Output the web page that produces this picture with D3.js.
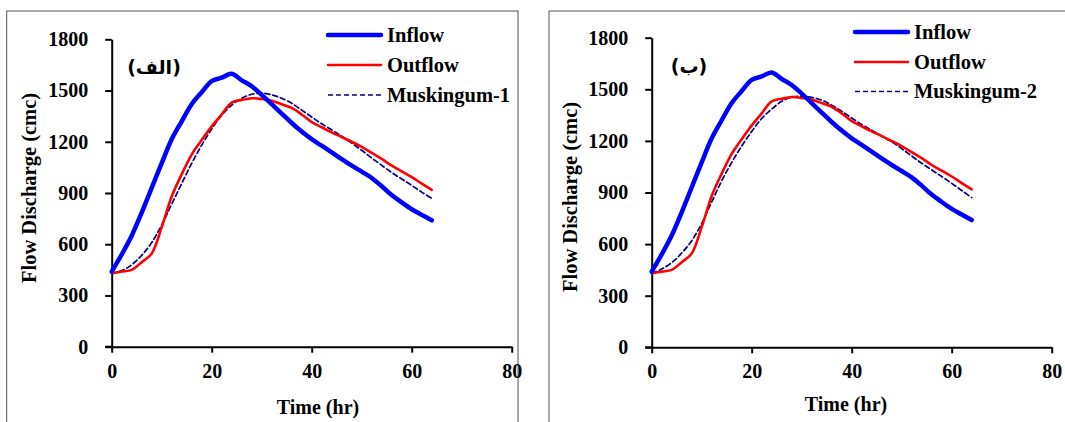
<!DOCTYPE html>
<html>
<head>
<meta charset="utf-8">
<script src="https://cdn.jsdelivr.net/npm/d3@7"></script>
<style>
  html, body { margin: 0; padding: 0; background: #fff; }
  svg { display: block; }
  text { font-family: "Liberation Serif", "Times New Roman", serif; font-weight: bold; fill: #000; }
</style>
</head>
<body>
<svg id="chart" width="1065" height="422"></svg>
<script>
// ---------- data ----------
const times = [0,2,4,6,8,10,12,14,16,18,20,22,24,26,28,30,32,34,36,38,40,42,44,46,48,50,52,54,56,58,60,62,64];
const inflow = [440,540,650,785,930,1075,1215,1320,1420,1490,1555,1575,1598,1560,1525,1475,1420,1365,1310,1260,1215,1177,1138,1098,1060,1025,988,940,888,845,805,772,740];
const outflow = [430,440,450,495,545,700,880,1010,1125,1210,1290,1360,1430,1445,1455,1450,1440,1420,1398,1360,1315,1285,1255,1228,1200,1170,1135,1100,1060,1027,993,955,918];
const muskingum1 = [430,445,480,535,610,713,835,955,1074,1180,1275,1355,1415,1455,1478,1485,1475,1455,1425,1385,1345,1305,1270,1232,1192,1150,1105,1062,1020,982,945,905,869];
const muskingum2 = [430,455,492,548,620,720,845,968,1075,1170,1255,1330,1385,1430,1455,1460,1453,1437,1408,1372,1333,1295,1262,1228,1194,1155,1112,1070,1031,993,953,912,870];
const xTicks = [0,20,40,60,80];
const yTicks = [0,300,600,900,1200,1500,1800];
const panelLabels = ["(الف)", "(ب)"];
const modelNames = ["Muskingum-1", "Muskingum-2"];
const seriesNames = ["Inflow", "Outflow"];
const xTitle = "Time (hr)";
const yTitle = "Flow Discharge (cmc)";

// ---------- layout ----------
const panels = [
  { frame: [6.7, 11, 518, 430], x0: 111.7, x1: 511.7, yTop: 39.3, yBot: 346.7,
    model: muskingum1, label: panelLabels[0], labelPos: [154, 67], name: modelNames[0],
    legX: 328, legY: [35, 65, 95], yTitlePos: [29, 188], xTitlePos: [318, 414] },
  { frame: [549, 11, 1080, 430], x0: 651.7, x1: 1051.7, yTop: 37.7, yBot: 347.3,
    model: muskingum2, label: panelLabels[1], labelPos: [689, 66], name: modelNames[1],
    legX: 855, legY: [32, 62, 91.5], yTitlePos: [570, 197], xTitlePos: [846, 411] }
];

const svg = d3.select("#chart");

panels.forEach((p, i) => {
  const g = svg.append("g");
  // frame
  g.append("rect")
    .attr("x", p.frame[0]).attr("y", p.frame[1])
    .attr("width", p.frame[2] - p.frame[0]).attr("height", p.frame[3] - p.frame[1])
    .attr("fill", "none").attr("stroke", "#555").attr("stroke-width", 1);

  const x = d3.scaleLinear().domain([0, 80]).range([p.x0, p.x1]);
  const y = d3.scaleLinear().domain([0, 1800]).range([p.yBot, p.yTop]);

  // axes
  const xAxis = g.append("g").attr("transform", `translate(0,${p.yBot})`)
    .call(d3.axisBottom(x).tickValues(xTicks).tickFormat(d3.format("d")).tickSize(6).tickPadding(11).tickSizeOuter(0));
  const yAxis = g.append("g").attr("transform", `translate(${p.x0},0)`)
    .call(d3.axisLeft(y).tickValues(yTicks).tickFormat(d3.format("d")).tickSize(6.5).tickPadding(17).tickSizeOuter(0));
  [xAxis, yAxis].forEach(a => {
    a.select(".domain").attr("stroke", "#000").attr("stroke-width", 2);
    a.selectAll(".tick line").attr("stroke", "#000").attr("stroke-width", 2);
    a.selectAll(".tick text").style("font-family", '"Liberation Serif", serif')
      .style("font-weight", "bold").style("font-size", "20px").attr("fill", "#000");
  });
  // extend x-axis domain to the left a little (as in reference)
  g.append("line").attr("x1", p.x0 - 6.5).attr("x2", p.x0).attr("y1", p.yBot).attr("y2", p.yBot)
    .attr("stroke", "#000").attr("stroke-width", 2);

  // axis titles
  g.append("text").attr("x", p.xTitlePos[0]).attr("y", p.xTitlePos[1])
    .attr("text-anchor", "middle").style("font-size", "20px").text(xTitle);
  g.append("text").attr("transform", `translate(${p.yTitlePos[0]},${p.yTitlePos[1]}) rotate(-90)`)
    .attr("text-anchor", "middle").attr("dy", "0.35em").style("font-size", "20.5px").text(yTitle);

  // lines
  const line = d3.line().x((d, j) => x(times[j])).y(d => y(d)).curve(d3.curveCatmullRom.alpha(0.5));
  const styles = [
    { data: p.model, color: "#000080", width: 1.7, dash: "5,3" },
    { data: outflow, color: "#ff0000", width: 2.6, dash: null },
    { data: inflow, color: "#0000ff", width: 4.5, dash: null }
  ];
  styles.forEach(s => {
    g.append("path").datum(s.data).attr("d", line)
      .attr("fill", "none").attr("stroke", s.color).attr("stroke-width", s.width)
      .attr("stroke-linecap", "round").attr("stroke-linejoin", "round")
      .attr("stroke-dasharray", s.dash);
  });

  // panel label (Arabic)
  g.append("text").attr("x", p.labelPos[0]).attr("y", p.labelPos[1])
    .attr("text-anchor", "middle").attr("dy", "0.35em")
    .style("font-family", '"DejaVu Sans", sans-serif').style("font-size", "19px")
    .text(p.label);

  // legend
  const leg = [
    { name: seriesNames[0], color: "#0000ff", width: 4.5, dash: null },
    { name: seriesNames[1], color: "#ff0000", width: 2.6, dash: null },
    { name: p.name, color: "#000080", width: 1.7, dash: "5,3" }
  ];
  leg.forEach((l, k) => {
    const ly = p.legY[k];
    g.append("line").attr("x1", p.legX).attr("x2", p.legX + 53).attr("y1", ly).attr("y2", ly)
      .attr("stroke", l.color).attr("stroke-width", l.width)
      .attr("stroke-linecap", l.dash ? "butt" : "round").attr("stroke-dasharray", l.dash);
    g.append("text").attr("x", p.legX + 59).attr("y", ly).attr("dy", "0.33em")
      .style("font-size", "20.5px").text(l.name);
  });
});
</script>
</body>
</html>
